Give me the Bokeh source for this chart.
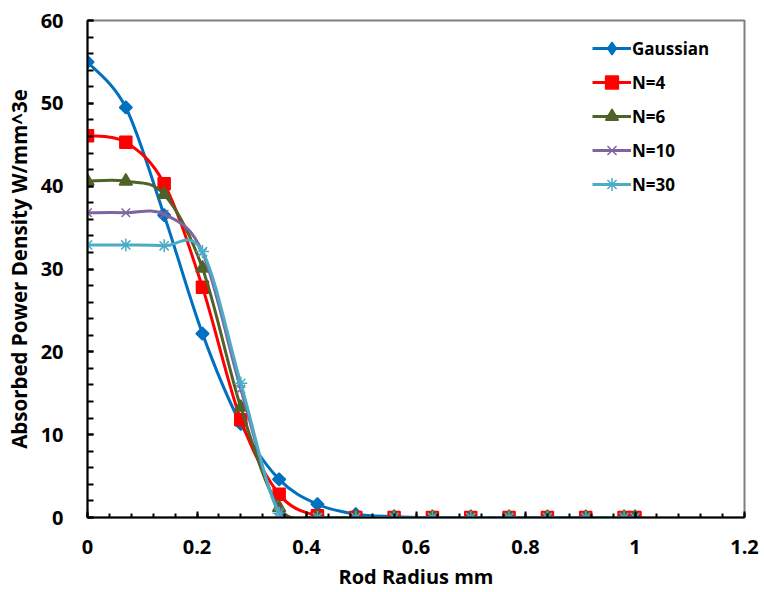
import numpy as np
from bokeh.plotting import figure
from bokeh.models import (Legend, LegendItem, FixedTicker, CustomJSTickFormatter,
                          ColumnDataSource, Range1d)
from bokeh.embed import file_html
from bokeh.resources import INLINE

# ---- data ----
radius = [0, 0.07, 0.14, 0.21, 0.28, 0.35, 0.42, 0.49, 0.56, 0.63, 0.70, 0.77, 0.84, 0.91, 0.98, 1.0]
gaussian = [55.0, 49.5, 36.5, 22.2, 11.3, 4.6, 1.6, 0.4, 0.1, 0, 0, 0, 0, 0, 0, 0]
n4 = [46.1, 45.3, 40.3, 27.8, 11.8, 2.8, 0.2, 0, 0, 0, 0, 0, 0, 0, 0, 0]
n6 = [40.6, 40.6, 39.0, 30.1, 13.3, 1.2, 0, 0, 0, 0, 0, 0, 0, 0, 0, 0]
n10 = [36.8, 36.8, 36.6, 32.0, 15.5, 0.8, 0, 0, 0, 0, 0, 0, 0, 0, 0, 0]
n30 = [32.9, 32.9, 32.8, 32.1, 16.2, 0.5, 0, 0, 0, 0, 0, 0, 0, 0, 0, 0]
series_names = ["Gaussian", "N=4", "N=6", "N=10", "N=30"]
x_ticks = [0, 0.2, 0.4, 0.6, 0.8, 1.0, 1.2]
y_ticks = [0, 10, 20, 30, 40, 50, 60]
x_title = "Rod Radius mm"
y_title = "Absorbed Power Density W/mm^3e"

FONT = "Open Sans"

p = figure(width=762, height=592, output_backend="svg", toolbar_location=None,
           x_range=Range1d(0, 1.2), y_range=Range1d(0, 60),
           min_border_left=87, min_border_right=18, min_border_top=20, min_border_bottom=74)
p.xgrid.visible = False
p.ygrid.visible = False
p.outline_line_color = "#7f7f7f"
p.outline_line_width = 2
p.background_fill_color = "white"
p.border_fill_color = "white"

styles = [
    dict(color="#0070C0", marker="square", angle=np.pi / 4, size=9, leg_marker="diamond"),
    dict(color="#FF0000", marker="square", angle=0, size=12, leg_marker="square"),
    dict(color="#4F6228", marker="triangle", angle=0, size=13, leg_marker="triangle"),
    dict(color="#8064A2", marker="x", angle=0, size=12, leg_marker="x"),
    dict(color="#4BACC6", marker="asterisk", angle=0, size=13, leg_marker="asterisk"),
]

def bezier_segments(xs, ys):
    xs = np.asarray(xs, float)
    ys = np.asarray(ys, float)
    n = len(xs)
    x0, y0, x1, y1, cx0, cy0, cx1, cy1 = [], [], [], [], [], [], [], []
    for i in range(n - 1):
        ip = max(i - 1, 0)
        inn = min(i + 2, n - 1)
        x0.append(xs[i]); y0.append(ys[i])
        x1.append(xs[i + 1]); y1.append(ys[i + 1])
        cx0.append(xs[i] + (xs[i + 1] - xs[ip]) / 6)
        cy0.append(ys[i] + (ys[i + 1] - ys[ip]) / 6)
        cx1.append(xs[i + 1] - (xs[inn] - xs[i]) / 6)
        cy1.append(ys[i + 1] - (ys[inn] - ys[i]) / 6)
    return dict(x0=x0, y0=y0, x1=x1, y1=y1, cx0=cx0, cy0=cy0, cx1=cx1, cy1=cy1)

items = []
for name, ys, st in zip(series_names, [gaussian, n4, n6, n10, n30], styles):
    seg = ColumnDataSource(bezier_segments(radius, ys))
    p.bezier(x0="x0", y0="y0", x1="x1", y1="y1", cx0="cx0", cy0="cy0",
             cx1="cx1", cy1="cy1", source=seg, line_color=st["color"], line_width=3)
    p.scatter(x=radius, y=ys, marker=st["marker"], size=st["size"], angle=st["angle"],
              fill_color=st["color"], line_color=st["color"], line_width=1.5)
    leg_line = p.line(x=[np.nan, np.nan], y=[np.nan, np.nan], line_color=st["color"], line_width=3)
    leg_sc = p.scatter(x=[np.nan], y=[np.nan], marker=st["leg_marker"], size=12,
                       fill_color=st["color"], line_color=st["color"], line_width=1.5)
    items.append(LegendItem(label=name, renderers=[leg_line, leg_sc]))

legend = Legend(items=items, location=(505, 317), padding=0, margin=0, spacing=2,
                glyph_width=39, glyph_height=32, label_height=32, label_standoff=1,
                border_line_color=None, background_fill_alpha=0,
                label_text_font=FONT, label_text_font_style="bold",
                label_text_font_size="17px", label_text_color="black")
p.add_layout(legend, "center")

fmt = CustomJSTickFormatter(code="return String(Math.round(tick*10)/10);")
p.xaxis.ticker = FixedTicker(ticks=x_ticks, minor_ticks=list(np.round(np.arange(0, 1.2001, 0.04), 2)))
p.yaxis.ticker = FixedTicker(ticks=y_ticks, minor_ticks=list(range(0, 61, 2)))
p.xaxis.formatter = fmt
p.yaxis.formatter = fmt

for ax in (p.xaxis, p.yaxis):
    ax.axis_line_color = "black"
    ax.axis_line_width = 2
    ax.major_tick_line_color = "black"
    ax.minor_tick_line_color = "black"
    ax.major_tick_line_width = 2
    ax.minor_tick_line_width = 2
    ax.major_tick_out = 0
    ax.minor_tick_out = 0
    ax.major_label_text_font = FONT
    ax.major_label_text_font_style = "bold"
    ax.major_label_text_font_size = "20px"
    ax.major_label_text_color = "black"
    ax.axis_label_text_font = FONT
    ax.axis_label_text_font_style = "bold"
    ax.axis_label_text_font_size = "20px"
    ax.axis_label_text_color = "black"

p.yaxis.axis_label_text_font_size = "20.5px"
p.xaxis.major_tick_in = 6
p.xaxis.minor_tick_in = 4
p.yaxis.major_tick_in = 6
p.yaxis.minor_tick_in = 6
p.xaxis.major_label_standoff = 22
p.yaxis.major_label_standoff = 24
p.xaxis.axis_label = x_title
p.yaxis.axis_label = y_title
p.xaxis.axis_label_standoff = 6
p.yaxis.axis_label_standoff = 5

open("out.html", "w").write(file_html(p, INLINE))
